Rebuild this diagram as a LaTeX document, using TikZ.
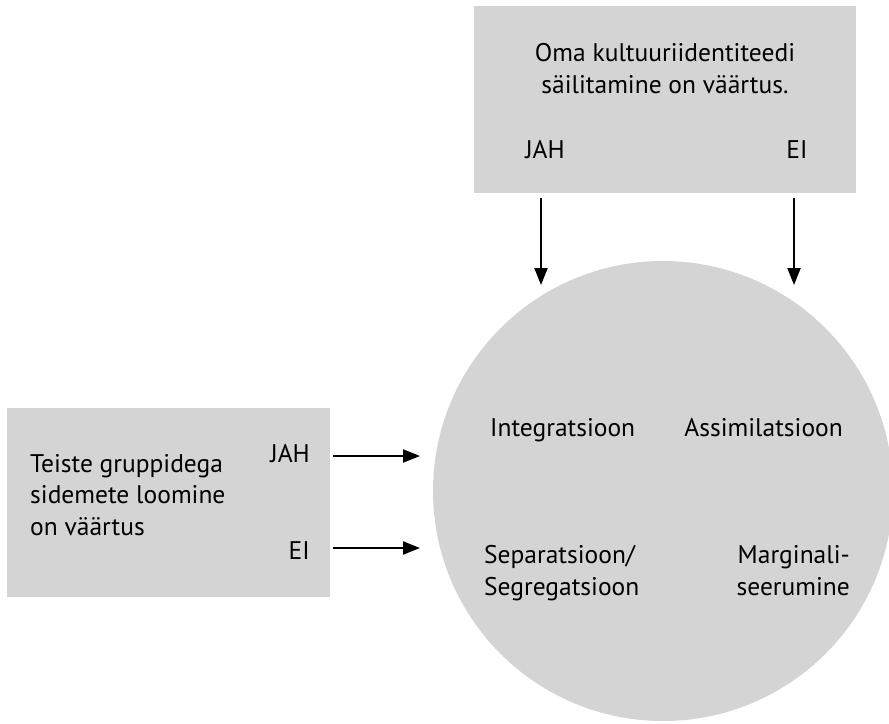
\documentclass[tikz,border=0pt]{standalone}
\usepackage{fontspec}
\setmainfont{PT Sans}
\usetikzlibrary{arrows.meta}
\definecolor{boxgrey}{HTML}{D4D4D4}
\tikzset{
  greybox/.style={fill=boxgrey, draw=none, inner sep=0pt},
  lbl/.style={font=\fontsize{25.5}{31.5}\selectfont, inner sep=0pt, text=black},
  conn/.style={line width=2.2pt, -{Triangle[length=17pt,width=13pt]}},
}
\begin{document}
\begin{tikzpicture}[x=1pt,y=-1pt]
\useasboundingbox (0,0) rectangle (889,723);
\clip (0,0) rectangle (889,723);
% shapes
\node[greybox, minimum width=382pt, minimum height=187pt] (topbox) at (665,99.5) {};
\node[greybox, minimum width=323pt, minimum height=189pt] (leftbox) at (168.5,502.5) {};
\node[greybox, circle, minimum size=460pt] (circ) at (663,491) {};
% top box texts (base = last line)
\node[lbl, align=center, anchor=base] (toptext) at (665,93) {Oma kultuuriidentiteedi\\säilitamine on väärtus.};
\node[lbl, anchor=base] (jahT) at (545,158) {JAH};
\node[lbl, anchor=base] (eiT) at (797,158) {EI};
% left box texts
\node[lbl, align=left, anchor=base west] (lefttext) at (30,535) {Teiste gruppidega\\sidemete loomine\\on väärtus};
\node[lbl, anchor=base east] (jahL) at (310,462) {JAH};
\node[lbl, anchor=base east] (eiL) at (310,559) {EI};
% circle texts
\node[lbl, anchor=base west] (integ) at (490,436) {Integratsioon};
\node[lbl, anchor=base east] (assim) at (843,436) {Assimilatsioon};
\node[lbl, align=left, anchor=base west] (separ) at (484,595) {Separatsioon/\\Segregatsioon};
\node[lbl, align=right, anchor=base east] (margin) at (850,595) {Marginali-\\seerumine};
% connector end points
\coordinate (t1s) at (541,198);
\coordinate (t1e) at (541,285);
\coordinate (t2s) at (794,198);
\coordinate (t2e) at (794,285);
\coordinate (l1s) at (333,456);
\coordinate (l1e) at (420,456);
\coordinate (l2s) at (333,548);
\coordinate (l2e) at (420,548);
\draw[conn] (t1s) -- (t1e);
\draw[conn] (t2s) -- (t2e);
\draw[conn] (l1s) -- (l1e);
\draw[conn] (l2s) -- (l2e);
\end{tikzpicture}
\end{document}
